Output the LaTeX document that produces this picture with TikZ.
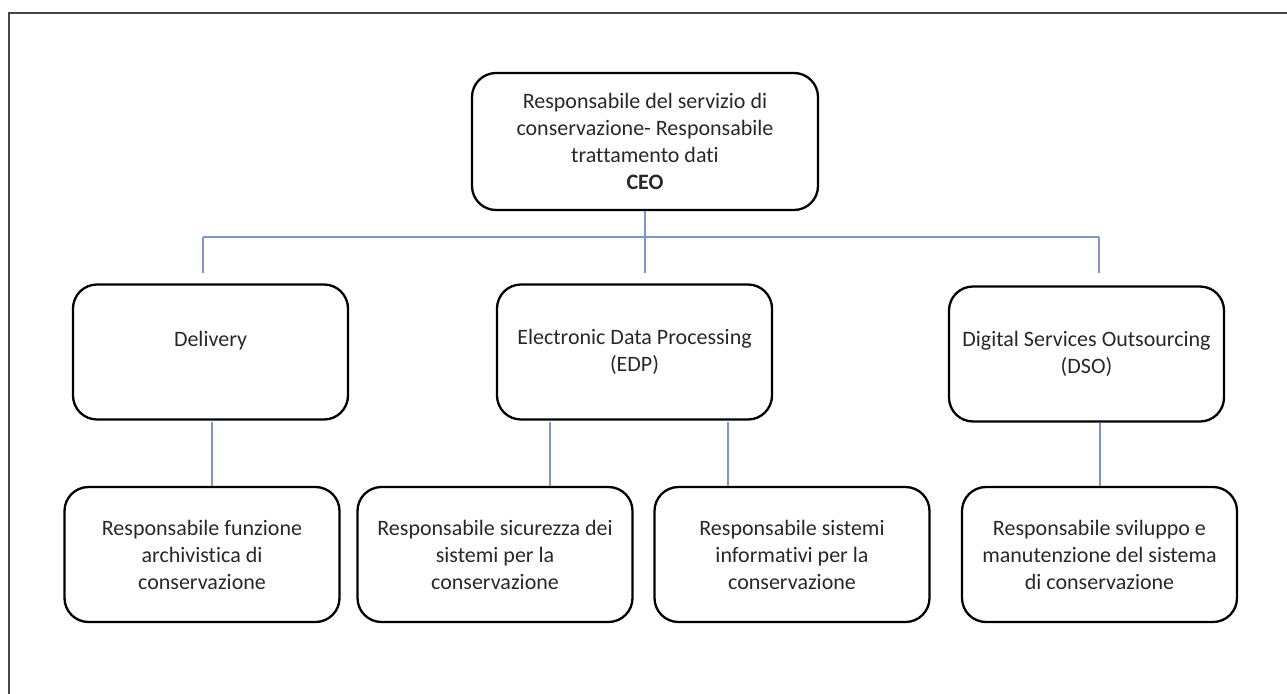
\documentclass[tikz,border=0pt]{standalone}
\usepackage{fontspec}
\setmainfont{Carlito}[Ligatures={NoCommon}]
\definecolor{linkcol}{RGB}{124,152,192}
\definecolor{txtcol}{RGB}{40,40,40}
\definecolor{framecol}{RGB}{70,70,70}
\begin{document}
\begin{tikzpicture}[x=1pt,y=-1pt,
  orgbox/.style={draw=black,line width=2.3pt,rounded corners=24pt,
    minimum width=275pt,minimum height=135pt,align=center,inner sep=0pt,
    text=txtcol,font=\fontsize{22}{27}\selectfont},
  ceobox/.style={orgbox,minimum width=346pt,minimum height=137pt},
  link/.style={draw=linkcol,line width=1.5pt}]
\useasboundingbox (0,0) rectangle (1287,693);
\begin{scope}
\clip (0,0) rectangle (1287,693);
\draw[framecol,line width=2pt] (9,13) rectangle (1300,710);
\end{scope}

% top
\node[ceobox] (ceo) at (645,141.5) {Responsabile del servizio di\\conservazione- Responsabile\\trattamento dati\\\textbf{CEO}};

% middle level
\node[orgbox] (del) at (210.5,352) {Delivery\\\mbox{}};
\node[orgbox] (edp) at (634.5,352) {Electronic Data Processing\\(EDP)};
\node[orgbox] (dso) at (1086.5,354) {Digital Services Outsourcing\\(DSO)};

% bottom level
\node[orgbox] (c1) at (202,554.5) {Responsabile funzione\\archivistica di\\conservazione};
\node[orgbox] (c2) at (495,554.5) {Responsabile sicurezza dei\\sistemi per la\\conservazione};
\node[orgbox] (c3) at (792,554.5) {Responsabile sistemi\\informativi per la\\conservazione};
\node[orgbox] (c4) at (1099.5,554.5) {Responsabile sviluppo e\\manutenzione del sistema\\di conservazione};

% connectors
\coordinate (hl) at (203,237);
\coordinate (hr) at (1099,237);
\coordinate (hm) at (ceo.south |- hl);
\coordinate (dl) at (203,273);
\coordinate (dm) at (ceo.south |- dl);
\coordinate (dr) at (1099,273);
\draw[link] (hl) -- (hr);
\draw[link] (ceo.south) -- (hm);
\draw[link] (hl) -- (dl);
\draw[link] (hm) -- (dm);
\draw[link] (hr) -- (dr);

\coordinate (a1) at (212,422);
\coordinate (a2) at (550,422);
\coordinate (a3) at (728,422);
\coordinate (a4) at (1100,423);
\draw[link] (a1) -- (a1 |- c1.north);
\draw[link] (a2) -- (a2 |- c2.north);
\draw[link] (a3) -- (a3 |- c3.north);
\draw[link] (a4) -- (a4 |- c4.north);
\end{tikzpicture}
\end{document}
